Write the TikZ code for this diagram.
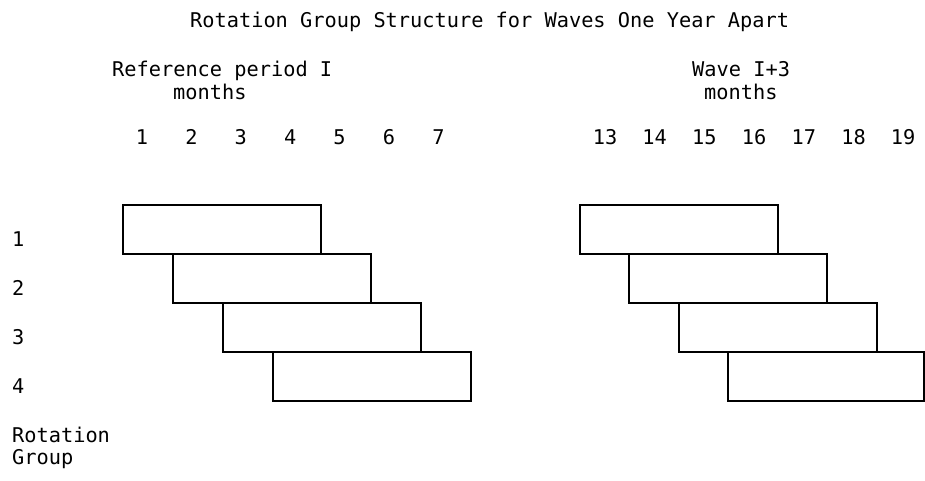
\documentclass[tikz,border=0pt]{standalone}
\usepackage{fontspec}
\setmainfont{DejaVu Sans Mono}
\begin{document}
\begin{tikzpicture}[x=1pt,y=-1pt,
  lbl/.style={inner sep=0pt,anchor=base west,font=\fontsize{20.3}{22}\selectfont},
  num/.style={inner sep=0pt,anchor=base,font=\fontsize{20.3}{22}\selectfont},
  rbox/.style={draw=black,line width=1.8pt,inner sep=0pt,anchor=north west,
    minimum width=198pt,minimum height=49pt}]
\useasboundingbox (0,0) rectangle (925,480);
\node[lbl] (title) at (190,27) {Rotation Group Structure for Waves One Year Apart};
\node[lbl] (refp) at (112,76) {Reference period I};
\node[lbl] (mL) at (173,99) {months};
\node[lbl] (wave) at (692,76) {Wave I+3};
\node[lbl] (mR) at (704,99) {months};
\foreach \k in {1,...,7}{
  \node[num] (nL\k) at ({142+49.4*(\k-1)},144) {\k};
}
\foreach \k [evaluate=\k as \m using int(\k+12)] in {1,...,7}{
  \node[num] (nR\k) at ({605+49.7*(\k-1)},144) {\m};
}
\node[lbl] (g1) at (12,246) {1};
\node[lbl] (g2) at (12,295) {2};
\node[lbl] (g3) at (12,344) {3};
\node[lbl] (g4) at (12,393) {4};
\node[lbl] (rot) at (12,442) {Rotation};
\node[lbl] (grp) at (12,464) {Group};
\node[rbox] (L1) at (122,204) {};
\node[rbox] (L2) at (172,253) {};
\node[rbox] (L3) at (222,302) {};
\node[rbox] (L4) at (272,351) {};
\node[rbox] (R1) at (579,204) {};
\node[rbox] (R2) at (628,253) {};
\node[rbox] (R3) at (678,302) {};
\node[rbox,minimum width=196pt] (R4) at (727,351) {};
\end{tikzpicture}
\end{document}
